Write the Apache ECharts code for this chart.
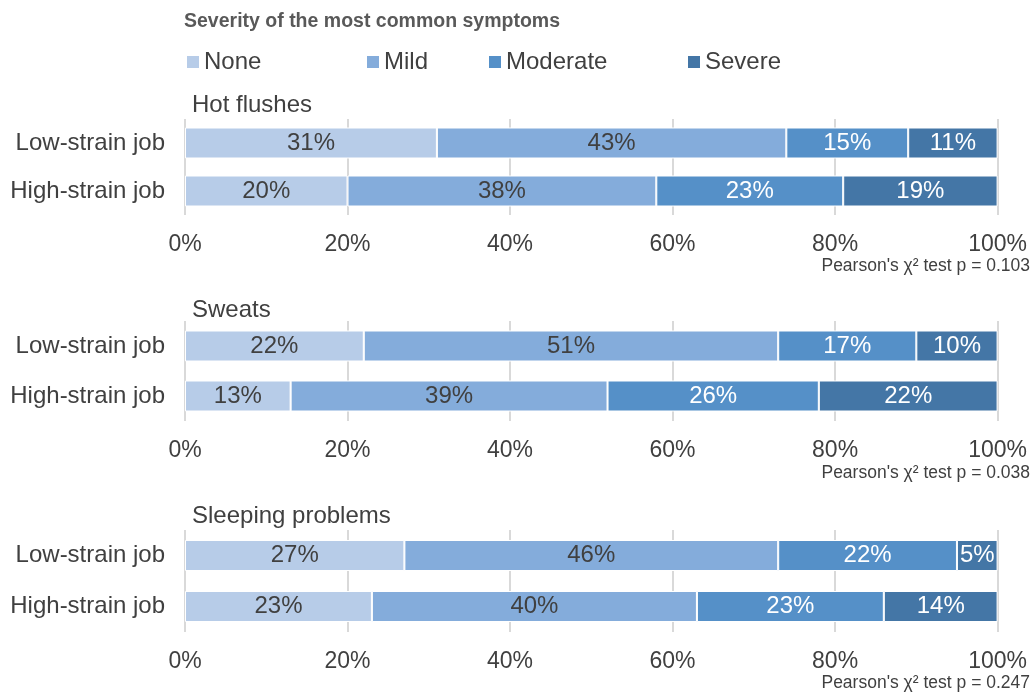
<!DOCTYPE html>
<html><head><meta charset="utf-8">
<script src="https://cdn.jsdelivr.net/npm/echarts@6/dist/echarts.min.js"></script>
<style>html,body{margin:0;padding:0;background:#fff}#c{width:1030px;height:692px}</style>
</head><body><div id="c"></div>
<script>
const categories = ['Low-strain job', 'High-strain job'];
const severities = ['None', 'Mild', 'Moderate', 'Severe'];
const panelTitles = ['Hot flushes', 'Sweats', 'Sleeping problems'];
const pValues = ["Pearson's \u03C7\u00B2 test p = 0.103", "Pearson's \u03C7\u00B2 test p = 0.038", "Pearson's \u03C7\u00B2 test p = 0.247"];
// values per severity: [Low-strain, High-strain]
const hotNone = [31, 20], hotMild = [43, 38], hotModerate = [15, 23], hotSevere = [11, 19];
const sweNone = [22, 13], sweMild = [51, 39], sweModerate = [17, 26], sweSevere = [10, 22];
const sleNone = [27, 23], sleMild = [46, 40], sleModerate = [22, 23], sleSevere = [5, 14];
const xTicks = [0, 20, 40, 60, 80, 100];

const panels = [
  [hotNone, hotMild, hotModerate, hotSevere],
  [sweNone, sweMild, sweModerate, sweSevere],
  [sleNone, sleMild, sleModerate, sleSevere]
];
const colors = ['#b7cce8', '#84acdb', '#5590c8', '#4476a6'];
const labelColors = ['#404040', '#404040', '#ffffff', '#ffffff'];
const font = 'Arial, "Liberation Sans", sans-serif';
const gridPos = [
  {top: 119, height: 96},
  {top: 321, height: 100},
  {top: 530, height: 102}
];
const panelTitleY = [93, 298, 504];
const pY = [257, 464, 674];

const grids = [], xAxes = [], yAxes = [], series = [], graphics = [];
panels.forEach((p, i) => {
  grids.push({left: 185, right: 32, top: gridPos[i].top, height: gridPos[i].height});
  xAxes.push({
    type: 'value', gridIndex: i, min: 0, max: 100, interval: 20,
    axisLine: {show: false}, axisTick: {show: false},
    splitLine: {show: true, lineStyle: {color: '#d9d9d9', width: 2}},
    axisLabel: {formatter: v => v + '%', color: '#404040', fontSize: 23, fontFamily: font, margin: 18}
  });
  yAxes.push({
    type: 'category', gridIndex: i, data: categories, inverse: true,
    axisLine: {show: false}, axisTick: {show: false},
    axisLabel: {color: '#404040', fontSize: 24, fontFamily: font, margin: 20}
  });
  p.forEach((vals, k) => {
    series.push({
      name: severities[k], type: 'bar', stack: 'p' + i, xAxisIndex: i, yAxisIndex: i,
      data: vals, barWidth: 31,
      itemStyle: {color: colors[k], borderColor: '#ffffff', borderWidth: 1},
      label: {show: true, position: 'inside', formatter: '{c}%', color: labelColors[k], fontSize: 24, fontFamily: font},
      emphasis: {disabled: true}
    });
  });
  graphics.push({type: 'text', left: 192, top: panelTitleY[i],
    style: {text: panelTitles[i], fill: '#404040', font: '24px ' + font}});
  graphics.push({type: 'text', right: 0, top: pY[i],
    style: {text: pValues[i], fill: '#404040', font: '17.5px ' + font}});
});

const legendLefts = [185, 365, 487, 686];
const legends = severities.map((s, k) => ({
  data: [s], left: legendLefts[k], top: 50, padding: 0, itemWidth: 14, itemHeight: 14, itemGap: 4,
  icon: 'rect', textStyle: {color: '#404040', fontSize: 24, fontFamily: font, padding: [0, 0, 0, -1]},
  selectedMode: false
}));

const chart = echarts.init(document.getElementById('c'));
chart.setOption({
  animation: false,
  title: {text: 'Severity of the most common symptoms', left: 184, top: 12, padding: 0,
    textStyle: {color: '#595959', fontSize: 19.5, fontWeight: 'bold', fontFamily: font}},
  legend: legends,
  grid: grids, xAxis: xAxes, yAxis: yAxes, series: series,
  graphic: graphics
});
</script></body></html>
